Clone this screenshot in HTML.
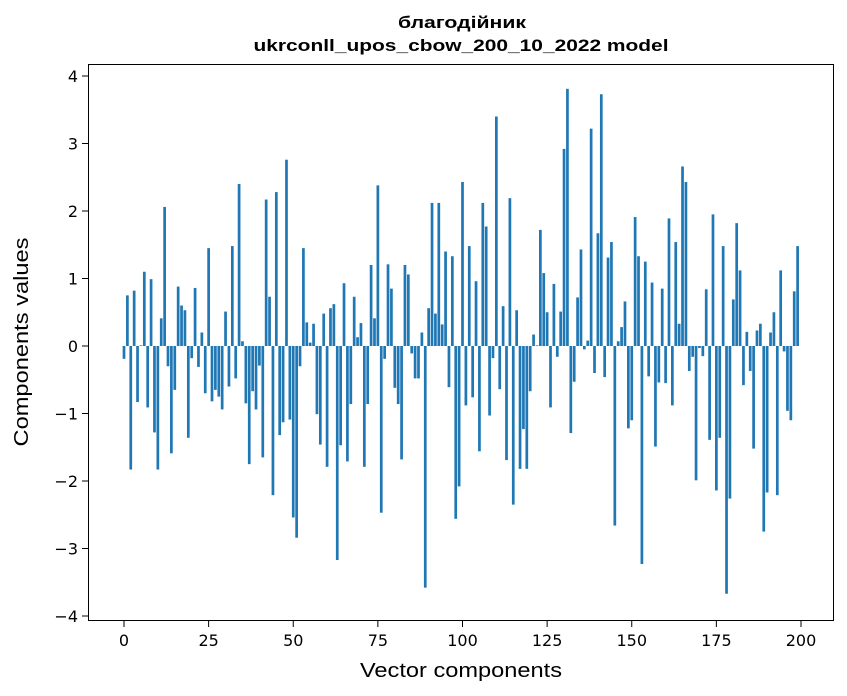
<!DOCTYPE html>
<html><head><meta charset="utf-8">
<style>
html,body{margin:0;padding:0;background:#fff;}
svg{display:block;font-family:"DejaVu Sans","Liberation Sans",sans-serif;}
.lib{font-family:"Liberation Sans","DejaVu Sans",sans-serif;}
</style></head>
<body>
<svg id="chart" width="847" height="696" viewBox="0 0 847 696">
<rect x="0" y="0" width="847" height="696" fill="#fff"/>
<text class="lib" x="462" y="28" text-anchor="middle" font-size="17" font-weight="bold" textLength="128" lengthAdjust="spacingAndGlyphs">благодійник</text>
<text class="lib" x="461" y="51" text-anchor="middle" font-size="17" font-weight="bold" textLength="415" lengthAdjust="spacingAndGlyphs">ukrconll_upos_cbow_200_10_2022 model</text>
<g id="bars"></g>
<g id="yticks"></g>
<g id="xticks"></g>
<rect x="88.5" y="64.5" width="745" height="556" fill="none" stroke="#000" stroke-width="1"/>
<text class="lib" x="461" y="677" text-anchor="middle" font-size="20" textLength="202" lengthAdjust="spacingAndGlyphs">Vector components</text>
<text class="lib" transform="translate(28,342) rotate(-90)" text-anchor="middle" font-size="20" textLength="209" lengthAdjust="spacingAndGlyphs">Components values</text>
</svg>
<script>
const values = [
-0.19,0.75,-1.83,0.82,-0.83,0.01,1.10,-0.91,0.99,-1.28,
-1.83,0.41,2.06,-0.30,-1.59,-0.65,0.88,0.60,0.53,-1.36,
-0.18,0.86,-0.31,0.20,-0.70,1.45,-0.82,-0.65,-0.75,-0.94,
0.51,-0.60,1.48,-0.48,2.40,0.07,-0.85,-1.75,-0.67,-0.94,
-0.29,-1.65,2.17,0.73,-2.21,2.28,-1.32,-1.13,2.76,-1.09,
-2.54,-2.84,-0.30,1.45,0.35,0.05,0.33,-1.01,-1.46,0.48,
-1.79,0.56,0.62,-3.17,-1.47,0.93,-1.71,-0.86,0.73,0.13,
0.34,-1.79,-0.86,1.20,0.41,2.38,-2.47,-0.19,1.21,0.85,
-0.62,-0.86,-1.68,1.20,1.06,-0.11,-0.48,-0.48,0.20,-3.58,
0.56,2.12,0.48,2.12,0.32,1.40,-0.61,1.33,-2.56,-2.08,
2.43,-0.88,1.48,-0.76,0.96,-1.56,2.12,1.77,-1.03,-0.18,
3.40,-0.64,0.59,-1.69,2.19,-2.35,0.53,-1.82,-1.23,-1.82,
-0.67,0.17,0.01,1.72,1.08,0.50,-0.91,0.92,-0.16,0.51,
2.92,3.81,-1.29,-0.53,0.72,1.43,-0.05,0.08,3.22,-0.40,
1.67,3.73,-0.46,1.31,1.54,-2.66,0.07,0.28,0.66,-1.22,
-1.10,1.91,1.33,-3.23,1.25,-0.45,0.94,-1.49,-0.54,0.85,
-0.55,1.89,-0.88,1.54,0.33,2.66,2.43,-0.37,-0.16,-1.99,
-0.03,-0.15,0.84,-1.39,1.95,-2.14,-1.36,1.48,-3.67,-2.26,
0.69,1.82,1.12,-0.58,0.21,-0.37,-1.52,0.23,0.33,-2.75,
-2.17,0.20,0.50,-2.21,1.12,-0.08,-0.96,-1.10,0.81,1.48
];
const yTicks = [-4,-3,-2,-1,0,1,2,3,4];
const yTickLabels = ["\u22124","\u22123","\u22122","\u22121","0","1","2","3","4"];
const xTicks = [0,25,50,75,100,125,150,175,200];
const xTickLabels = ["0","25","50","75","100","125","150","175","200"];

const NS="http://www.w3.org/2000/svg";
function xs(v){return 124 + v*(801-124)/200;}
function ys(v){return 346 - v*67.5;}
const bw = 0.8*(801-124)/200;
const gb=document.getElementById('bars');
values.forEach((v,i)=>{
  const r=document.createElementNS(NS,'rect');
  const y0=ys(0), y1=ys(v);
  r.setAttribute('x', xs(i)-bw/2);
  r.setAttribute('y', Math.min(y0,y1));
  r.setAttribute('width', bw);
  r.setAttribute('height', Math.max(Math.abs(y1-y0),0.01));
  r.setAttribute('fill','#1f77b4');
  
  
  gb.appendChild(r);
});
const gy=document.getElementById('yticks');
yTicks.forEach((t,i)=>{
  const l=document.createElementNS(NS,'line');
  l.setAttribute('x1',82);l.setAttribute('x2',88.5);
  l.setAttribute('y1',ys(t));l.setAttribute('y2',ys(t));
  l.setAttribute('stroke','#000');
  
  
  gy.appendChild(l);
  const tx=document.createElementNS(NS,'text');
  tx.setAttribute('x',78);tx.setAttribute('y',ys(t)+6);
  tx.setAttribute('text-anchor','end');tx.setAttribute('font-size','16');
  tx.textContent=yTickLabels[i];
  
  
  gy.appendChild(tx);
});
const gx=document.getElementById('xticks');
xTicks.forEach((t,i)=>{
  const l=document.createElementNS(NS,'line');
  l.setAttribute('x1',xs(t));l.setAttribute('x2',xs(t));
  l.setAttribute('y1',620.5);l.setAttribute('y2',627);
  l.setAttribute('stroke','#000');
  
  
  gx.appendChild(l);
  const tx=document.createElementNS(NS,'text');
  tx.setAttribute('x',xs(t));tx.setAttribute('y',646);
  tx.setAttribute('text-anchor','middle');tx.setAttribute('font-size','16');
  tx.textContent=xTickLabels[i];
  
  
  gx.appendChild(tx);
});
</script>
</body></html>
